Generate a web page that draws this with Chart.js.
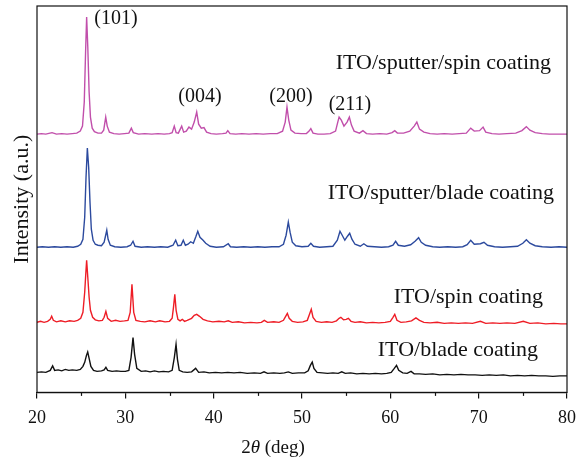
<!DOCTYPE html>
<html>
<head>
<meta charset="utf-8">
<script src="https://cdn.jsdelivr.net/npm/chart.js@4.4.0/dist/chart.umd.min.js"></script>
<style>
html,body{margin:0;padding:0;background:#fff;}
#wrap{width:577px;height:460px;}
</style>
</head>
<body>
<div id="wrap"><canvas id="c" width="577" height="460"></canvas></div>
<script>
// ---- data: [2theta (deg), stacked intensity (a.u.)] ----
const xTicks = [20, 30, 40, 50, 60, 70, 80];
const minorTicks = [25, 35, 45, 55, 65, 75];
const seriesNames = ['ITO/sputter/spin coating', 'ITO/sputter/blade coating', 'ITO/spin coating', 'ITO/blade coating'];
const peakNames = ['(101)', '(004)', '(200)', '(211)'];

const sputterSpin = [
[20.0,258],[20.5,258.5],[21.0,258],[21.7,259.5],[22.2,258],[22.8,258.5],[23.4,258],[24.0,258.5],[24.5,259],
[24.9,261],[25.15,266],[25.35,290],[25.5,340],[25.62,375],[25.75,345],[25.9,300],[26.05,275],[26.25,264],
[26.5,260.5],[26.9,259],[27.3,259],[27.55,262],[27.78,275],[27.95,266],[28.2,260],[28.7,258.5],[29.3,258],
[29.9,258.5],[30.4,259],[30.68,264],[30.9,259.5],[31.5,258],[32.2,258.5],[33.0,258],[33.7,258.5],[34.4,258],
[35.0,258.5],[35.3,259.5],[35.54,266],[35.75,259.5],[36.0,259],[36.38,266],[36.6,260],[36.9,261],[37.2,265],
[37.5,263],[37.8,270],[38.08,280],[38.3,268],[38.6,264],[38.9,264.5],[39.2,260],[39.7,258.5],[40.3,258],
[41.0,258.5],[41.4,259],[41.6,261.5],[41.85,258.5],[42.5,258],[43.2,258.5],[44.0,258],[44.8,258.5],[45.6,258],
[46.4,258.5],[47.2,258.5],[47.8,261],[48.1,270],[48.3,285],[48.5,272],[48.75,262],[49.2,259],[49.9,258.5],
[50.5,258.5],[50.8,261],[51.0,263.5],[51.25,259],[51.8,258],[52.5,258],[53.2,258.5],[53.8,261],[54.05,270],
[54.2,275],[54.45,272],[54.75,266],[55.1,270],[55.36,275],[55.6,267],[55.9,261],[56.5,259],[56.9,261.5],
[57.3,258.5],[58.0,258],[58.8,258.5],[59.6,258],[60.2,259.5],[60.5,261.5],[60.8,259],[61.5,259],[62.2,261],
[62.7,266],[63.0,270],[63.3,263],[63.8,260],[64.5,258.5],[65.3,258],[66.1,258.5],[67.0,258],[67.8,258.5],
[68.6,259],[69.1,264],[69.5,261],[70.1,261.5],[70.5,265],[70.8,260],[71.5,258.5],[72.3,258],[73.2,258.5],
[74.2,259],[74.9,261.5],[75.4,265.5],[75.8,262],[76.4,259.5],[77.2,258.5],[78.0,258],[79.0,258],[80.0,258]
];

const sputterBlade = [
[20.0,145],[20.6,145.5],[21.3,145],[22.0,145.5],[22.7,145],[23.4,145.5],[24.1,145],[24.6,146],[24.95,148],
[25.2,153],[25.4,175],[25.55,215],[25.7,244],[25.85,225],[26.0,190],[26.15,163],[26.35,152],[26.6,148],
[26.9,147],[27.3,146.5],[27.6,150],[27.8,158],[27.9,162],[28.05,153],[28.3,147],[28.8,145.5],[29.5,145],
[30.2,145.5],[30.6,147],[30.87,151],[31.1,146],[31.8,145],[32.5,145.5],[33.3,145],[34.0,145.5],[34.8,145],
[35.4,147],[35.7,152],[35.95,146.5],[36.3,147],[36.56,152],[36.8,147],[37.1,148],[37.4,150.5],[37.7,149],
[38.0,156],[38.2,161],[38.45,155],[38.8,152],[39.1,149],[39.6,146],[40.3,145],[41.1,145.5],[41.65,148.5],
[41.9,145.5],[42.6,145],[43.4,145.5],[44.2,145],[45.0,145.5],[45.8,145],[46.6,145.5],[47.4,145.5],[47.9,148],
[48.2,157],[48.45,170],[48.65,160],[48.9,150],[49.3,146.5],[50.0,145.5],[50.7,146],[51.0,149],[51.3,146],
[52.0,145],[52.8,145.5],[53.5,146],[54.0,152],[54.3,161],[54.55,157],[54.85,152],[55.15,156],[55.4,159],
[55.65,153],[56.0,148],[56.6,146],[57.0,148.5],[57.4,146],[58.2,145.5],[59.0,145],[59.8,145.5],[60.3,147],
[60.6,151],[60.9,147],[61.6,146],[62.3,147.5],[62.8,151],[63.2,154.5],[63.5,150],[64.0,147],[64.8,145.5],
[65.6,145],[66.5,145.5],[67.4,145],[68.2,145.5],[68.7,147.5],[69.1,152],[69.5,148],[70.2,148.5],[70.6,150],
[71.0,147],[71.8,145.5],[72.7,145],[73.6,145.5],[74.4,146],[75.0,149],[75.4,152.5],[75.8,149],[76.4,146.5],
[77.2,145.5],[78.2,145],[79.1,145.5],[80.0,145]
];

const spin = [
[20.0,70],[20.4,71],[20.8,70],[21.2,71],[21.5,73],[21.66,76],[21.85,72],[22.2,70.5],[22.7,71.5],[23.2,70.5],
[23.7,71.5],[24.2,71],[24.6,72],[24.95,74],[25.2,80],[25.4,100],[25.52,118],[25.62,132],[25.75,115],[25.9,95],
[26.05,82],[26.3,75],[26.6,72.5],[27.0,71.5],[27.4,72],[27.6,75],[27.8,81],[28.0,74],[28.4,71],[28.9,72],
[29.4,71],[29.9,71.5],[30.3,72],[30.55,80],[30.75,108],[30.95,80],[31.2,72],[31.7,71],[32.2,70.5],[32.8,71.5],
[33.4,70.5],[33.9,71.5],[34.5,70.5],[35.0,71],[35.3,74],[35.45,85],[35.6,98],[35.75,82],[35.95,73],[36.2,71.5],
[36.45,73],[36.7,71],[37.0,72],[37.5,74],[37.8,77],[38.08,78],[38.4,76],[38.8,73],[39.3,71.5],[39.9,70.5],
[40.6,71],[41.2,70.5],[41.65,71.5],[42.1,70],[42.8,70.5],[43.5,69.5],[44.2,70],[44.9,69.5],[45.4,70],[45.73,72],
[46.1,70],[46.8,70.5],[47.4,70],[47.9,72],[48.15,76],[48.34,79],[48.55,74],[48.9,71],[49.5,70],[50.1,70.5],
[50.6,72],[50.85,78],[51.05,83],[51.25,75],[51.6,71],[52.2,70],[52.8,70.5],[53.4,70],[53.9,71.5],[54.2,74],
[54.4,75],[54.7,72.5],[55.0,73],[55.25,74],[55.55,71],[56.0,70],[56.6,70.5],[57.3,69.5],[58.0,70],[58.7,69.5],
[59.4,70],[60.0,71],[60.3,75],[60.5,78],[60.75,72],[61.2,70],[61.8,70.5],[62.4,71.5],[62.9,74.5],[63.3,72],
[63.8,70],[64.5,69.5],[65.3,70],[66.1,69],[66.9,69.5],[67.7,69],[68.5,69.5],[69.3,69],[70.2,71],[70.8,69],
[71.6,69.5],[72.4,69],[73.2,69.5],[74.1,69],[75.05,71],[75.8,69],[76.7,69.5],[77.6,68.5],[78.5,69],[79.3,68.5],
[80.0,68.5]
];

const blade = [
[20.0,20],[20.5,20.5],[21.0,20],[21.5,22],[21.77,26.5],[22.0,22],[22.4,22.5],[22.8,21.5],[23.2,23],[23.6,22],
[24.0,22.5],[24.5,22],[24.9,23],[25.2,26],[25.4,30],[25.6,37],[25.74,40.3],[25.9,34],[26.1,26],[26.4,22],
[26.8,21],[27.3,21.5],[27.6,22.5],[27.8,25],[28.0,22],[28.5,21],[29.0,21.5],[29.5,21],[30.0,21],[30.4,22],
[30.65,35],[30.87,54.7],[31.05,38],[31.3,24],[31.8,21],[32.3,21.5],[32.8,20.5],[33.3,21.5],[33.8,20.5],[34.3,21],
[34.9,20.5],[35.3,22],[35.55,35],[35.74,48],[35.9,33],[36.1,22],[36.5,20.5],[37.0,20],[37.5,20.5],[37.96,24],
[38.3,20],[38.9,20.5],[39.5,19.5],[40.2,20],[40.9,19.5],[41.6,20],[42.3,19.5],[43.0,20],[43.8,19],[44.6,19.5],
[45.3,19],[45.7,20.5],[46.1,19],[46.8,19.5],[47.5,19],[48.0,19.5],[48.45,20.5],[48.9,19],[49.6,19.5],[50.3,19.5],
[50.7,21.5],[50.95,27],[51.16,30.3],[51.35,24],[51.7,20],[52.3,19.5],[52.9,19],[53.5,19.5],[54.1,19],[54.5,20.5],
[54.9,19],[55.5,19.5],[56.2,18.5],[56.9,19],[57.6,18.5],[58.3,19],[59.0,18.5],[59.6,19],[60.1,20],[60.45,24],
[60.7,27],[60.95,22],[61.4,19.5],[61.9,19],[62.34,21],[62.7,18.5],[63.3,18.5],[64.0,18],[64.8,18.5],[65.6,17.5],
[66.4,18],[67.2,17.5],[68.0,18],[68.8,17.5],[69.6,17.5],[70.4,17],[71.2,17.5],[72.0,17],[72.8,17.5],[73.6,16.5],
[74.4,17],[75.2,16.5],[76.0,17],[76.8,16.5],[77.6,16.5],[78.4,16],[79.2,16.5],[80.0,16.5]
];

// ---- presentation ----
const colors = ['#c14fab', '#2c4a9e', '#ee1d26', '#111111'];
const allSeries = [sputterSpin, sputterBlade, spin, blade];
const SERIF = '"Liberation Serif", "DejaVu Serif", serif';

// annotation anchors in data coordinates
const peakAnchors = [[28.94, 373], [38.45, 295], [48.75, 295], [55.43, 287]];
const nameAnchors = [[78.19, 329], [78.53, 199], [77.28, 95], [76.72, 42]];

const deco = {
  id: 'deco',
  afterDraw(chart) {
    const {ctx, chartArea: a, scales: {x, y}} = chart;
    ctx.save();
    ctx.strokeStyle = '#111';
    ctx.lineWidth = 1.2;
    ctx.strokeRect(a.left, a.top, a.right - a.left, a.bottom - a.top);
    minorTicks.forEach(v => {
      const px = Math.round(x.getPixelForValue(v)) + 0.5;
      ctx.beginPath(); ctx.moveTo(px, a.bottom); ctx.lineTo(px, a.bottom + 3.5); ctx.stroke();
    });
    ctx.fillStyle = '#111';
    ctx.textBaseline = 'middle';
    ctx.font = '20px ' + SERIF;
    ctx.textAlign = 'center';
    peakNames.forEach((t, i) => {
      ctx.fillText(t, x.getPixelForValue(peakAnchors[i][0]), y.getPixelForValue(peakAnchors[i][1]));
    });
    ctx.textAlign = 'right';
    ctx.font = '22px ' + SERIF;
    seriesNames.forEach((t, i) => {
      ctx.fillText(t, x.getPixelForValue(nameAnchors[i][0]), y.getPixelForValue(nameAnchors[i][1]));
    });
    // y title
    ctx.save();
    ctx.translate(22, (a.top + a.bottom) / 2);
    ctx.rotate(-Math.PI / 2);
    ctx.textAlign = 'center';
    ctx.font = '22px ' + SERIF;
    ctx.fillText('Intensity (a.u.)', 0, 0);
    ctx.restore();
    // x title: 2θ (deg) with italic theta
    const parts = [['2', ''], ['\u03B8', 'italic '], [' (deg)', '']];
    let total = 0;
    parts.forEach(p => { ctx.font = p[1] + '19px ' + SERIF; total += ctx.measureText(p[0]).width; });
    let cx = 273 - total / 2;
    ctx.textAlign = 'left';
    parts.forEach(p => {
      ctx.font = p[1] + '19px ' + SERIF;
      ctx.fillText(p[0], cx, 448);
      cx += ctx.measureText(p[0]).width;
    });
    ctx.restore();
  }
};

new Chart(document.getElementById('c'), {
  type: 'line',
  data: {
    datasets: allSeries.map((s, i) => ({
      label: seriesNames[i],
      data: s.map(p => ({x: p[0], y: p[1]})),
      borderColor: colors[i],
      borderWidth: 1.4,
      pointRadius: 0,
      tension: 0,
      fill: false
    }))
  },
  options: {
    responsive: false,
    animation: false,
    layout: {padding: {left: 37, right: 10, top: 6, bottom: 22}},
    plugins: {legend: {display: false}, tooltip: {enabled: false}},
    scales: {
      x: {
        type: 'linear', min: 20, max: 80,
        afterBuildTicks: sc => { sc.ticks = xTicks.map(v => ({value: v})); },
        afterFit: sc => { sc.paddingLeft = 0; sc.paddingRight = 0; },
        ticks: {font: {family: SERIF, size: 18}, color: '#111', maxRotation: 0, autoSkip: false, padding: 9},
        grid: {drawOnChartArea: false, drawTicks: true, tickLength: 6, color: '#111', lineWidth: 1.2},
        border: {display: true, color: '#111', width: 1.2}
      },
      y: {display: false, min: 0, max: 386}
    }
  },
  plugins: [deco]
});
</script>
</body>
</html>
